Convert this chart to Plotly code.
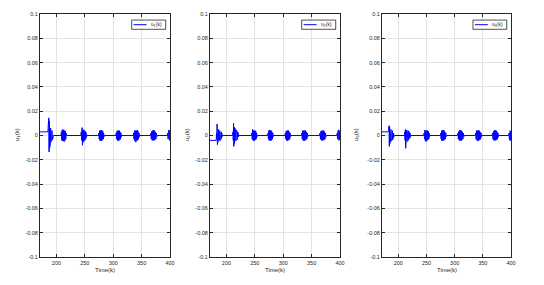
import plotly.graph_objects as go

# ---------------- data ----------------
x_ticks = [200, 250, 300, 350, 400]
y_ticks = [0.1, 0.08, 0.06, 0.04, 0.02, 0, -0.02, -0.04, -0.06, -0.08, -0.1]
y_tick_text = ["0.1", "0.08", "0.06", "0.04", "0.02", "0", "-0.02", "-0.04", "-0.06", "-0.08", "-0.1"]

t1 = [171, 185.0,
      185.5, 186.0, 186.5, 187.0, 187.5, 188.0, 188.6, 189.2, 189.8, 190.4, 191.0, 191.6, 192.2, 192.8, 193.4, 194.0, 194.6,
      208.0, 208.7, 209.4, 210.1, 210.8, 211.5, 212.2, 212.9, 213.6, 214.3, 215.0, 215.7, 216.4, 217.1, 217.8,
      243.0, 243.7, 244.4, 245.1, 245.8, 246.5, 247.2, 247.9, 248.6, 249.3, 250.0, 250.7, 251.4, 252.1, 252.8, 253.5,
      274.0, 274.7, 275.4, 276.1, 276.8, 277.5, 278.2, 278.9, 279.6, 280.3, 281.0, 281.7, 282.4, 283.1, 283.8, 284.5,
      304.5, 305.2, 305.9, 306.6, 307.3, 308.0, 308.7, 309.4, 310.1, 310.8, 311.5, 312.2, 312.9, 313.6, 314.3, 315.0,
      335.0, 335.8, 336.6, 337.4, 338.2, 339.0, 339.8, 340.6, 341.4, 342.2, 343.0, 343.8, 344.6, 345.4, 346.2, 347.0,
      365.5, 366.3, 367.1, 367.9, 368.7, 369.5, 370.3, 371.1, 371.9, 372.7, 373.5, 374.3, 375.1, 375.9, 376.7, 377.5,
      395.5, 396.1, 396.7, 397.3, 397.9, 398.5, 399.1, 399.7, 400.0]
u1 = [0.003, 0.003,
      0.008, -0.006, 0.0145, -0.0135, 0.012, -0.010, 0.008, -0.007, 0.006, -0.005, 0.005, -0.0045, 0.004, -0.0035, 0.003, -0.002, 0.0,
      0.0, 0.003, -0.004, 0.0045, -0.0045, 0.005, -0.0045, 0.0045, -0.005, 0.004, -0.004, 0.0035, -0.003, 0.002, 0.0,
      0.0, 0.003, -0.004, 0.0065, -0.008, 0.005, -0.0055, 0.0045, -0.0045, 0.004, -0.004, 0.0035, -0.003, 0.0025, -0.0015, 0.0,
      0.0, 0.002, -0.003, 0.004, -0.0045, 0.004, -0.004, 0.0045, -0.0045, 0.004, -0.0035, 0.0035, -0.003, 0.002, -0.001, 0.0,
      0.0, 0.002, -0.003, 0.0035, -0.004, 0.004, -0.0045, 0.004, -0.004, 0.004, -0.0035, 0.003, -0.003, 0.002, -0.001, 0.0,
      0.0, 0.002, -0.003, 0.004, -0.0045, 0.004, -0.0055, 0.004, -0.004, 0.0045, -0.004, 0.0035, -0.003, 0.002, -0.001, 0.0,
      0.0, 0.002, -0.003, 0.0035, -0.004, 0.004, -0.004, 0.0045, -0.004, 0.004, -0.0035, 0.003, -0.003, 0.002, -0.001, 0.0,
      0.0, 0.002, -0.003, 0.004, -0.004, 0.0045, -0.004, 0.004, 0.0]

t2 = [171, 182.0,
      182.5, 183.0, 183.5, 184.0, 184.6, 185.2, 185.8, 186.4, 187.0, 187.6, 188.2, 188.8, 189.4, 190.0, 190.6, 191.2, 191.8, 192.4, 193.0,
      211.0, 211.5, 212.0, 212.5, 213.0, 213.6, 214.2, 214.8, 215.4, 216.0, 216.6, 217.2, 217.8, 218.4, 219.0, 219.6, 220.2, 220.8, 221.4, 222.0,
      244.0, 244.7, 245.4, 246.1, 246.8, 247.5, 248.2, 248.9, 249.6, 250.3, 251.0, 251.7, 252.4, 253.1, 253.8, 254.5,
      272.5, 273.2, 273.9, 274.6, 275.3, 276.0, 276.7, 277.4, 278.1, 278.8, 279.5, 280.2, 280.9, 281.6, 282.3, 283.0,
      303.0, 303.7, 304.4, 305.1, 305.8, 306.5, 307.2, 307.9, 308.6, 309.3, 310.0, 310.7, 311.4, 312.1, 312.8, 313.5,
      332.0, 332.8, 333.6, 334.4, 335.2, 336.0, 336.8, 337.6, 338.4, 339.2, 340.0, 340.8, 341.6, 342.4, 343.2, 344.0,
      364.0, 364.8, 365.6, 366.4, 367.2, 368.0, 368.8, 369.6, 370.4, 371.2, 372.0, 372.8, 373.6, 374.4, 375.2, 376.0,
      394.5, 395.1, 395.7, 396.3, 396.9, 397.5, 398.1, 398.7, 399.3, 400.0]
u2 = [-0.004, -0.004,
      0.002, -0.003, 0.0095, -0.0075, 0.006, -0.005, 0.005, -0.0045, 0.0045, -0.004, 0.004, -0.004, 0.0035, -0.0035, 0.003, -0.0025, 0.002, -0.001, 0.0,
      0.0, 0.003, -0.004, 0.010, -0.009, 0.007, -0.0065, 0.006, -0.005, 0.005, -0.0045, 0.0045, -0.004, 0.004, -0.0035, 0.003, -0.0025, 0.002, -0.001, 0.0,
      0.0, 0.002, -0.003, 0.005, -0.004, 0.004, -0.0045, 0.004, -0.004, 0.004, -0.0035, 0.0035, -0.003, 0.002, -0.001, 0.0,
      0.0, 0.002, -0.003, 0.004, -0.004, 0.0045, -0.004, 0.004, -0.0045, 0.004, -0.0035, 0.003, -0.003, 0.002, -0.001, 0.0,
      0.0, 0.002, -0.003, 0.0035, -0.004, 0.004, -0.0045, 0.004, -0.004, 0.004, -0.0035, 0.003, -0.003, 0.002, -0.001, 0.0,
      0.0, 0.002, -0.003, 0.004, -0.004, 0.004, -0.0045, 0.004, -0.004, 0.004, -0.0035, 0.003, -0.003, 0.002, -0.001, 0.0,
      0.0, 0.002, -0.003, 0.0035, -0.004, 0.004, -0.004, 0.004, -0.004, 0.004, -0.0035, 0.003, -0.003, 0.002, -0.001, 0.0,
      0.0, 0.002, -0.003, 0.004, -0.004, 0.0045, -0.004, 0.004, -0.0035, 0.0]

t3 = [171, 182.0,
      182.5, 183.0, 183.5, 184.0, 184.5, 185.0, 185.6, 186.2, 186.8, 187.4, 188.0, 188.6, 189.2, 189.8, 190.4, 191.0, 191.6, 192.2, 192.8,
      211.0, 211.5, 212.0, 212.5, 213.0, 213.6, 214.2, 214.8, 215.4, 216.0, 216.6, 217.2, 217.8, 218.4, 219.0, 219.6, 220.2, 220.8, 221.4, 222.0,
      245.0, 245.75, 246.5, 247.25, 248.0, 248.75, 249.5, 250.25, 251.0, 251.75, 252.5, 253.25, 254.0, 254.75, 255.5, 256.25,
      274.5, 275.25, 276.0, 276.75, 277.5, 278.25, 279.0, 279.75, 280.5, 281.25, 282.0, 282.75, 283.5, 284.25, 285.0, 285.75,
      305.0, 305.8, 306.6, 307.4, 308.2, 309.0, 309.8, 310.6, 311.4, 312.2, 313.0, 313.8, 314.6, 315.4, 316.2, 317.0,
      336.5, 337.3, 338.1, 338.9, 339.7, 340.5, 341.3, 342.1, 342.9, 343.7, 344.5, 345.3, 346.1, 346.9, 347.7, 348.5,
      366.5, 367.3, 368.1, 368.9, 369.7, 370.5, 371.3, 372.1, 372.9, 373.7, 374.5, 375.3, 376.1, 376.9, 377.7, 378.5,
      396.0, 396.5, 397.0, 397.5, 398.0, 398.5, 399.0, 399.5, 400.0]
u3 = [0.003, 0.003,
      0.004, -0.003, 0.008, -0.009, 0.0075, -0.0065, 0.006, -0.005, 0.005, -0.0045, 0.0045, -0.004, 0.004, -0.0035, 0.003, -0.0025, 0.002, -0.001, 0.0,
      0.0, 0.003, -0.004, 0.005, -0.0105, 0.0045, -0.007, 0.0045, -0.005, 0.004, -0.0045, 0.004, -0.004, 0.0035, -0.0035, 0.003, -0.0025, 0.002, -0.001, 0.0,
      0.0, 0.002, -0.003, 0.0045, -0.0045, 0.004, -0.005, 0.004, -0.004, 0.004, -0.0035, 0.0035, -0.003, 0.002, -0.001, 0.0,
      0.0, 0.002, -0.003, 0.004, -0.0045, 0.004, -0.004, 0.0045, -0.004, 0.004, -0.0035, 0.003, -0.003, 0.002, -0.001, 0.0,
      0.0, 0.002, -0.003, 0.0035, -0.004, 0.0045, -0.004, 0.004, -0.0045, 0.004, -0.0035, 0.003, -0.003, 0.002, -0.001, 0.0,
      0.0, 0.002, -0.003, 0.004, -0.004, 0.004, -0.0045, 0.004, -0.004, 0.004, -0.0035, 0.003, -0.003, 0.002, -0.001, 0.0,
      0.0, 0.002, -0.003, 0.0035, -0.004, 0.004, -0.004, 0.0045, -0.004, 0.004, -0.0035, 0.003, -0.003, 0.002, -0.001, 0.0,
      0.0, 0.002, -0.003, 0.004, -0.004, 0.004, -0.004, 0.0035, 0.0]

series_names = ["u<sub>1</sub>(k)", "u<sub>2</sub>(k)", "u<sub>3</sub>(k)"]
x_label = "Time(k)"
x_range = [171, 400]
y_range = [-0.1, 0.1]

# ---------------- layout ----------------
# The page body has an 8px margin, so the figure starts at (8, 8) on the page.
OFF = 8
W, H = 544 - OFF, 285 - OFF
panels_px = [(40, 170), (210, 340), (382, 511)]   # page pixels
ylabel_px = [18, 188, 357]
top_px, bot_px = 14, 257
xlabel_px_y = 270
ylabel_px_y = 135


def px_x(p):
    return (p - OFF) / W


def px_y(p):
    return (H - (p - OFF)) / H


FONT = "Liberation Sans, Arial, sans-serif"
INK = "#262626"
BLUE = "#0000ff"

fig = go.Figure()
annotations = []
shapes = []
series = [(t1, u1), (t2, u2), (t3, u3)]

for i, ((t, u), name) in enumerate(zip(series, series_names)):
    idx = "" if i == 0 else str(i + 1)
    xa, ya = "x" + idx, "y" + idx
    fig.add_trace(go.Scatter(x=t, y=u, mode="lines", name=name,
                             line=dict(color=BLUE, width=1),
                             xaxis=xa, yaxis=ya, showlegend=False))
    x0, x1 = panels_px[i]
    axis_common = dict(showline=True, linecolor=INK, linewidth=1, mirror="ticks",
                       ticks="inside", ticklen=3, tickwidth=0.8, tickcolor=INK,
                       showgrid=True, gridcolor="#e3e3e3", gridwidth=1,
                       zeroline=False, automargin=False,
                       tickfont=dict(family=FONT, size=5.5, color=INK))
    fig.layout["xaxis" + idx] = dict(domain=[px_x(x0), px_x(x1)], range=x_range,
                                      anchor=ya, tickvals=x_ticks, **axis_common)
    fig.layout["yaxis" + idx] = dict(domain=[px_y(bot_px), px_y(top_px)],
                                      range=y_range, anchor=xa,
                                      tickvals=y_ticks, ticktext=y_tick_text,
                                      **axis_common)
    # axis labels
    annotations.append(dict(text=x_label, x=px_x((x0 + x1) / 2), y=px_y(xlabel_px_y),
                            xref="paper", yref="paper", showarrow=False,
                            xanchor="center", yanchor="middle",
                            font=dict(family=FONT, size=6, color=INK)))
    annotations.append(dict(text=name, x=px_x(ylabel_px[i]), y=px_y(ylabel_px_y),
                            xref="paper", yref="paper", showarrow=False, textangle=-90,
                            xanchor="center", yanchor="middle",
                            font=dict(family=FONT, size=6, color=INK)))
    # legend box
    xd, yd = xa + " domain", ya + " domain"
    shapes.append(dict(type="rect", xref=xd, yref=yd, x0=0.705, x1=0.967, y0=0.937, y1=0.975,
                       line=dict(color=INK, width=0.8), fillcolor="white", layer="above"))
    shapes.append(dict(type="line", xref=xd, yref=yd, x0=0.72, x1=0.82, y0=0.956, y1=0.956,
                       line=dict(color=BLUE, width=1), layer="above"))
    annotations.append(dict(text=name, xref=xd, yref=yd, x=0.835, y=0.956,
                            xanchor="left", yanchor="middle", showarrow=False,
                            font=dict(family=FONT, size=5, color=INK)))

fig.update_layout(width=W, height=H, margin=dict(l=0, r=0, t=0, b=0),
                  paper_bgcolor="white", plot_bgcolor="white",
                  annotations=annotations, shapes=shapes, showlegend=False)

fig.write_html("out.html")
